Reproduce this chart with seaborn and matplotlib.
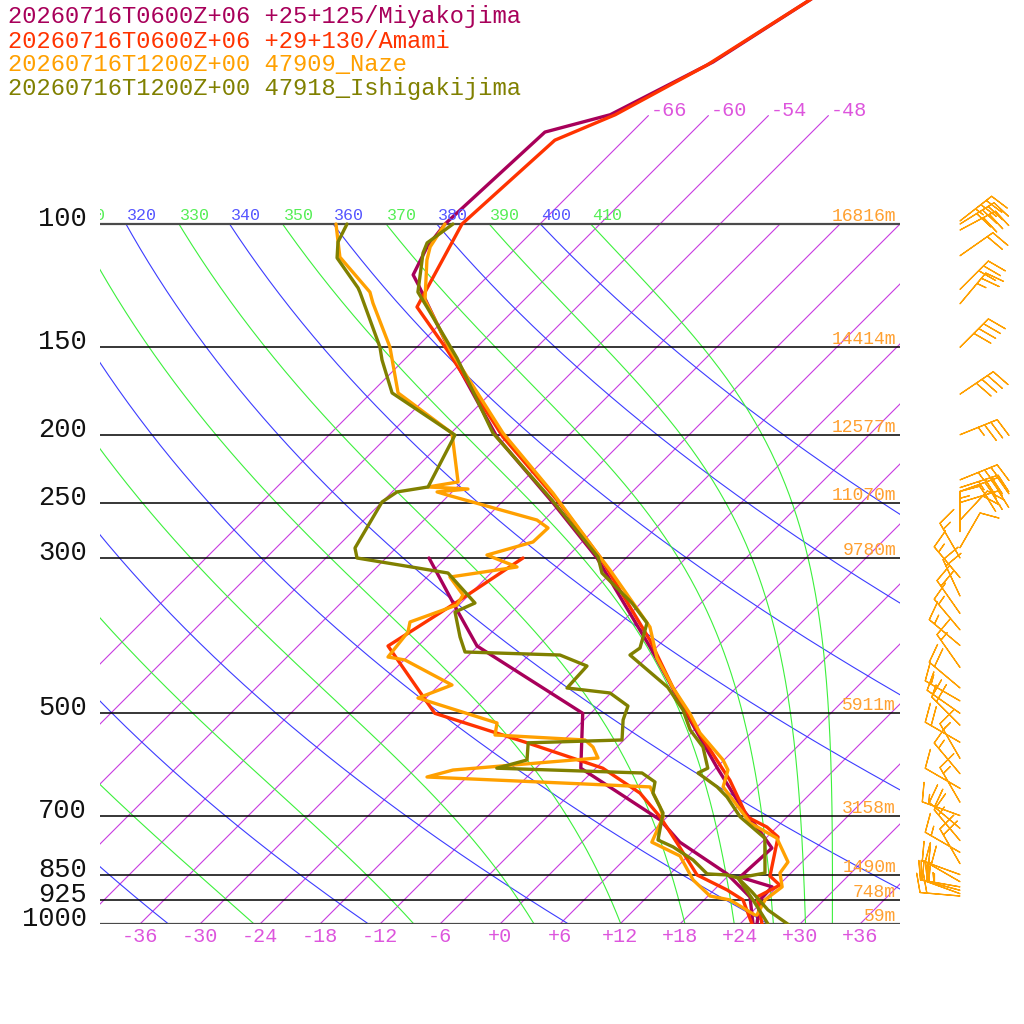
import numpy as np
import pandas as pd
import matplotlib
matplotlib.use('Agg')
import matplotlib.pyplot as plt
import seaborn as sns

sns.set_style('white')
plt.rcParams['font.family'] = ['Liberation Mono', 'DejaVu Sans Mono']

#%% data (pressure hPa, temperature degC)
miyako_T_p = [47.5, 58.7, 69.8, 73.9, 100, 107.8, 118.2, 122.1, 154.9, 201.5, 250.3, 300, 402, 511, 597, 687, 727, 779, 857, 885, 924, 1000]
miyako_T_t = [-61.3, -64.9, -69.9, -74.7, -75.5, -75.0, -73.6, -72.1, -61.4, -49.0, -36.8, -26.9, -12.7, -1.4, 6.0, 12.9, 16.0, 19.6, 19.3, 23.5, 23.6, 25.7]
miyako_Td_p = [300, 356, 400.7, 500, 599, 661, 710, 764, 848, 915, 1000]
miyako_Td_t = [-43.7, -35.7, -30.1, -12.8, -7.5, 0.1, 5.6, 9.8, 17.7, 22.3, 25.3]

amami_T_p = [47.5, 59.3, 69.8, 75.9, 100, 131.4, 151.3, 201.5, 247.9, 299, 393, 459, 528, 623, 703, 727, 751, 854, 880, 915, 1000]
amami_T_t = [-61.3, -65.2, -69.4, -72.9, -73.8, -70.0, -62.7, -48.4, -36.7, -26.7, -13.4, -6.4, 0.3, 8.6, 14.0, 17.0, 19.1, 22.2, 24.1, 23.0, 26.2]
amami_Td_p = [300, 346.7, 400.7, 500, 551, 599, 650, 703, 766, 851, 894, 924, 1000]
amami_Td_t = [-34.3, -36.5, -39.0, -27.6, -15.4, -5.3, 0.9, 5.3, 9.6, 14.8, 19.3, 21.9, 25.2]

naze_T_p = [100, 107.8, 112.6, 128.4, 151.3, 198.9, 242.3, 295.1, 312.1, 376.5, 416.9, 459, 500, 533.5, 583, 602.6, 637, 665, 717, 754, 815.5, 845.6, 885, 924, 971]
naze_T_t = [-75.5, -74.7, -73.7, -69.9, -62.4, -48.8, -37.8, -27.4, -24.4, -14.7, -10.9, -6.4, -2.1, 0.9, 5.9, 7.4, 8.6, 10.9, 14.9, 19.1, 22.6, 22.9, 24.5, 24.1, 24.8]
naze_Td_p = [100, 111.5, 125.1, 129.7, 149.9, 174.3, 198.9, 233.6, 237.5, 239.1, 241.4, 243.8, 264.8, 271.8, 284.6, 297.1, 309, 319.4, 338.8, 350.2, 370.3, 382.7, 415.5, 419.6, 455.6, 475.5, 516.2, 537, 545.9, 558.7, 579.2, 602.6, 616.6, 637, 680.6, 703, 764, 799.5, 865, 912, 924, 971]
naze_Td_t = [-86.4, -82.7, -76.2, -74.8, -68.7, -63.3, -53.9, -48.4, -50.9, -46.7, -49.5, -48.2, -36.7, -34.8, -34.9, -38.2, -34.0, -39.7, -36.6, -36.2, -39.2, -38.4, -37.9, -35.9, -28.7, -30.8, -20.4, -19.4, -9.9, -8.4, -6.8, -20.1, -22.0, 1.3, 4.3, 5.6, 7.0, 11.2, 14.9, 18.2, 20.6, 24.6]

ishi_T_p = [100, 106.4, 110.0, 125.1, 131.4, 155.4, 198.9, 247.9, 299, 315.2, 347.9, 371.5, 403.4, 412.8, 459, 494.6, 528, 558.7, 599, 608.5, 637, 658.5, 703, 754, 845.6, 859.6, 900, 955, 1006]
ishi_T_t = [-74.7, -75.4, -74.8, -71.4, -69.0, -60.9, -49.8, -37.2, -26.9, -24.9, -18.9, -15.4, -13.6, -13.9, -6.9, -3.1, -0.4, 2.6, 5.2, 4.7, 8.0, 10.0, 13.3, 17.9, 21.4, 19.2, 22.0, 25.4, 29.2]
ishi_Td_p = [100, 106.1, 111.8, 123.4, 125.1, 149.9, 156.4, 174.3, 200.2, 237.5, 241.4, 249.5, 290.3, 300, 315.2, 347.9, 358.3, 389, 408.7, 412.8, 428, 460.1, 467.7, 488.2, 511, 545.9, 551, 583, 599, 608.5, 626.8, 650, 694, 758.6, 776, 810, 848, 851, 859.6, 924, 1000]
ishi_Td_t = [-85.3, -84.4, -82.9, -77.8, -77.2, -69.7, -68.2, -63.9, -53.4, -50.9, -53.5, -54.0, -52.1, -50.9, -40.3, -34.6, -35.7, -32.7, -30.7, -20.9, -17.1, -16.9, -12.1, -9.0, -8.1, -6.2, -15.3, -13.7, -15.9, -0.9, 1.3, 2.2, 5.2, 7.4, 9.6, 12.9, 15.7, 17.8, 19.2, 22.9, 26.8]

# Naze winds: pressure, direction (from, deg), speed (kt)
wind_p   = [99, 100, 102, 111, 124, 130, 150, 175, 200, 232, 238, 241, 250, 265, 275, 290, 300, 320, 340, 360, 380, 400, 430, 460, 480, 500, 520, 550, 580, 610, 640, 670, 700, 730, 760, 790, 820, 850, 870, 885, 895, 905, 912]
wind_dir = [52, 58, 62, 55, 45, 40, 45, 56, 68, 68, 72, 70, 73, 43, 0, 30, 330, 320, 335, 325, 320, 310, 325, 310, 300, 305, 315, 300, 330, 320, 300, 330, 290, 310, 320, 300, 330, 290, 300, 280, 285, 290, 275]
wind_spd = [35, 40, 30, 20, 30, 25, 40, 40, 35, 35, 35, 40, 30, 20, 15, 10, 15, 15, 20, 20, 15, 15, 15, 20, 15, 15, 20, 20, 15, 15, 10, 15, 15, 20, 15, 15, 20, 20, 20, 25, 25, 20, 20]

levels  = [100, 150, 200, 250, 300, 500, 700, 850, 925, 1000]
heights = ['16816m', '14414m', '12577m', '11070m', '9780m', '5911m', '3158m', '1490m', '748m', '59m']

stations = ['20260716T0600Z+06 +25+125/Miyakojima',
            '20260716T0600Z+06 +29+130/Amami',
            '20260716T1200Z+00 47909_Naze',
            '20260716T1200Z+00 47918_Ishigakijima']
colors = ['#a8005a', '#ff3300', '#ffa000', '#808000']

iso_col   = '#c83ce0'
dry_col   = '#3c3cff'
moist_col = '#3cf03c'

SKEW = 30.4                      # degC shift per ln-unit of pressure (45 deg)
P_TOP = 1000*np.exp(-924/304)


def skew_x(t, p):
    return np.asarray(t) + SKEW*np.log(1000/np.asarray(p))


def thetae_sat(tk, p):
    tc = tk - 273.15
    es = 6.112*np.exp(17.67*tc/(tc+243.5))
    r = 622*es/np.maximum(p-es, 1.0)
    r = np.minimum(r, 300)
    return tk*(1000/p)**(0.2854*(1-0.28e-3*r))*np.exp((3.376/tk-0.00254)*r*(1+0.81e-3*r))


#%% figure
fig = plt.figure(figsize=(10.24, 10.24), dpi=100)
ax = fig.add_axes([100/1024, 100/1024, 800/1024, 924/1024])
ax.set_yscale('log')
ax.set_ylim(1000, P_TOP)
ax.set_xlim(-40, 40)
ax.axis('off')

# isotherms
for t in range(-66, 37, 6):
    ptop = 70 if t <= -48 else 100
    pp = np.array([1000, ptop])
    ax.plot(skew_x(t, pp), pp, color=iso_col, lw=0.8)
    if t <= -48:
        ax.text(skew_x(t, 70)+0.2, 70, f'{t:d}', color='#dd55dd', fontsize=14.5,
                ha='left', va='baseline')

pp = np.geomspace(1000, 100, 200)
# dry adiabats
for th in range(240, 401, 20):
    tt = th*(pp/1000)**0.2857 - 273.15
    ax.plot(skew_x(tt, pp), pp, color=dry_col, lw=0.8)
    x0 = skew_x(tt[-1], 100)
    if x0 > -43:
        ax.text(x0+0.1, 98.6, str(th), color='#5555ff', fontsize=12,
                ha='left', va='baseline', clip_on=True)
# moist adiabats (saturated theta-e)
tk_grid = np.arange(150, 330, 0.05)
for the in range(250, 411, 20):
    tt = []
    for p in pp:
        vals = np.maximum.accumulate(thetae_sat(tk_grid, p))
        tt.append(np.interp(the, vals, tk_grid) - 273.15)
    tt = np.array(tt)
    ax.plot(skew_x(tt, pp), pp, color=moist_col, lw=0.8)
    x0 = skew_x(tt[-1], 100)
    if x0 > -43:
        ax.text(x0+0.1, 98.6, str(the), color='#55ee55', fontsize=12,
                ha='left', va='baseline', clip_on=True)

# isobars, pressure and height labels
for lev, h in zip(levels, heights):
    edge = lev in (100, 1000)
    ax.plot([-40, 40], [lev, lev], color='#4a4a4a' if edge else 'black',
            lw=1.6 if edge else 1.1, solid_capstyle='butt')
    ax.text(-41.3, lev*np.exp(2/304), str(lev), fontsize=19.5, color='#111111',
            ha='right', va='baseline', clip_on=False)
    ax.text(39.6, lev*np.exp(-3/304), h, fontsize=13, color='#ffa030',
            ha='right', va='baseline')

# temperature axis labels
for t in range(-36, 37, 6):
    ax.text(t, 1000*np.exp(13/304), f'{t:+d}', fontsize=14.5, color='#dd55dd',
            ha='center', va='center', clip_on=False)

#%% profiles
profiles = [
    (miyako_T_p, miyako_T_t, miyako_Td_p, miyako_Td_t),
    (amami_T_p, amami_T_t, amami_Td_p, amami_Td_t),
    (naze_T_p, naze_T_t, naze_Td_p, naze_Td_t),
    (ishi_T_p, ishi_T_t, ishi_Td_p, ishi_Td_t),
]
for (tp, tt, dp, dt), col in zip(profiles, colors):
    for p_, t_ in ((dp, dt), (tp, tt)):
        df = pd.DataFrame({'p': p_, 't': t_})
        df['X'] = skew_x(df['t'], df['p'])
        sns.lineplot(data=df, x='X', y='p', sort=False, estimator=None,
                     color=col, lw=2.4, ax=ax)
ax.set_xlim(-40, 40)
ax.set_ylim(1000, P_TOP)
ax.axis('off')

# legend text
for i, (name, col) in enumerate(zip(stations, colors)):
    fig.text(8/1024, 1-(17+24*i)/1024, name, color=col, fontsize=17.1,
             ha='left', va='center')

#%% wind barbs for Naze
bax = fig.add_axes([900/1024, 100/1024, 124/1024, 924/1024])
bax.set_yscale('log')
bax.set_ylim(1000, P_TOP)
bax.set_xlim(0, 124)
bax.axis('off')
wd = np.deg2rad(wind_dir)
ws = np.array(wind_spd, dtype=float)
u = -ws*np.sin(wd)
v = -ws*np.cos(wd)
bax.barbs(np.full(len(wind_p), 60), wind_p, u, v, length=7.6, color='#ffa000',
          linewidth=0.9, sizes=dict(spacing=0.17, height=0.47, width=0.25),
          clip_on=False)

fig.savefig('out.png', dpi=100)
